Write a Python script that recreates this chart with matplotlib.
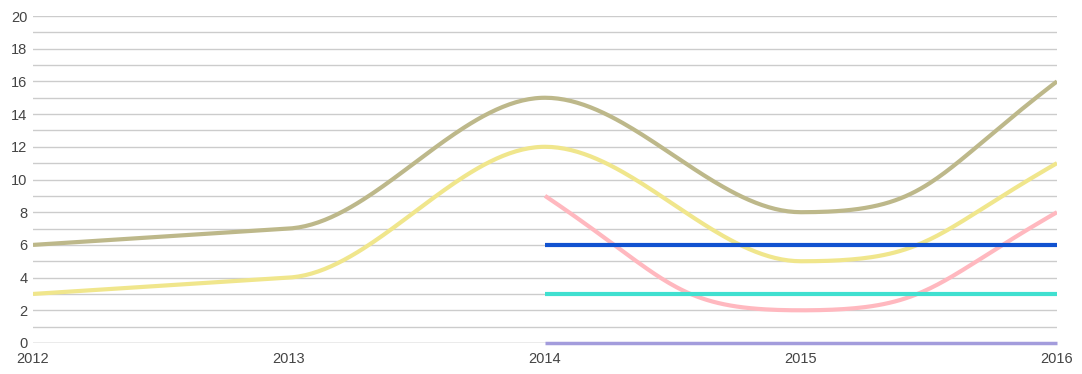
import numpy as np
import matplotlib.pyplot as plt

years = [2012, 2013, 2014, 2015, 2016]

khaki_dark = [6, 7, 15, 8, 16]
khaki_light = [3, 4, 12, 5, 11]
pink_years = [2014, 2015, 2016]
pink = [9, 2, 8]
blue = [6, 6, 6]
turquoise = [3, 3, 3]
purple = [0, 0, 0]


def slopes(x, y):
    # monotone tangents: flat at peaks, the gentler side's slope elsewhere
    x = np.asarray(x, float)
    y = np.asarray(y, float)
    h = np.diff(x)
    s = np.diff(y) / h
    m = np.zeros_like(y)
    for k in range(1, len(y) - 1):
        if s[k - 1] * s[k] > 0:
            p = (s[k - 1] * h[k] + s[k] * h[k - 1]) / (h[k - 1] + h[k])
            m[k] = np.sign(s[k]) * min(abs(s[k - 1]), abs(s[k]), 0.5 * abs(p))
    if len(y) > 2:
        m[0] = (3 * s[0] - m[1]) / 2
        m[-1] = (3 * s[-1] - m[-2]) / 2
    else:
        m[:] = s[0]
    return m


def smooth(x, y, n=80):
    x = np.asarray(x, float)
    y = np.asarray(y, float)
    m = slopes(x, y)
    nseg = len(x) - 1
    t = np.linspace(0, 1, n)
    xs, ys = [], []
    for k in range(nseg):
        h = x[k + 1] - x[k]
        # outer segments get longer handles, inner ones plain hermite
        a = 0.5 if (k == 0 or k == nseg - 1) else 1 / 3
        px = [x[k], x[k] + a * h, x[k + 1] - a * h, x[k + 1]]
        py = [y[k], y[k] + a * h * m[k], y[k + 1] - a * h * m[k + 1], y[k + 1]]
        b = [(1 - t) ** 3, 3 * (1 - t) ** 2 * t, 3 * (1 - t) * t ** 2, t ** 3]
        xs.append(sum(bi * pi for bi, pi in zip(b, px)))
        ys.append(sum(bi * pi for bi, pi in zip(b, py)))
    return np.concatenate(xs), np.concatenate(ys)


plt.rcParams['font.family'] = ['Liberation Sans', 'DejaVu Sans']

fig = plt.figure(figsize=(10.82, 3.74), dpi=100)
ax = fig.add_axes([33 / 1082, 31 / 374, 1024 / 1082, 327 / 374])

ax.set_xlim(2012, 2016)
ax.set_ylim(0, 20)

for yv in range(1, 21):
    ax.axhline(yv, color='#cccccc', lw=1, zorder=0)
ax.axhline(0, color='#999999', lw=1, zorder=0)

lw = 3.0
for xv, yv, col in [(years, khaki_dark, '#bdb88a'), (years, khaki_light, '#f0e68c'),
                    (pink_years, pink, '#ffb8bf')]:
    sx, sy = smooth(xv, yv)
    ax.plot(sx, sy, color=col, lw=lw, solid_capstyle='butt', zorder=3)

ax.plot(pink_years, blue, color='#1152d0', lw=lw, solid_capstyle='butt', zorder=3)
ax.plot(pink_years, turquoise, color='#40e0d0', lw=lw, solid_capstyle='butt', zorder=3)
ax.plot(pink_years, purple, color='#a39cdc', lw=2.5, solid_capstyle='butt', zorder=3, clip_on=False)

for s in ax.spines.values():
    s.set_visible(False)

ax.set_yticks(range(0, 21, 2))
ax.set_xticks(years)
ax.set_xticklabels([str(y) for y in years])
ax.tick_params(length=0, labelsize=10.5, colors='#444444')
ax.tick_params(axis='y', pad=4)
ax.tick_params(axis='x', pad=6.5)

fig.savefig('out.png', dpi=100)
